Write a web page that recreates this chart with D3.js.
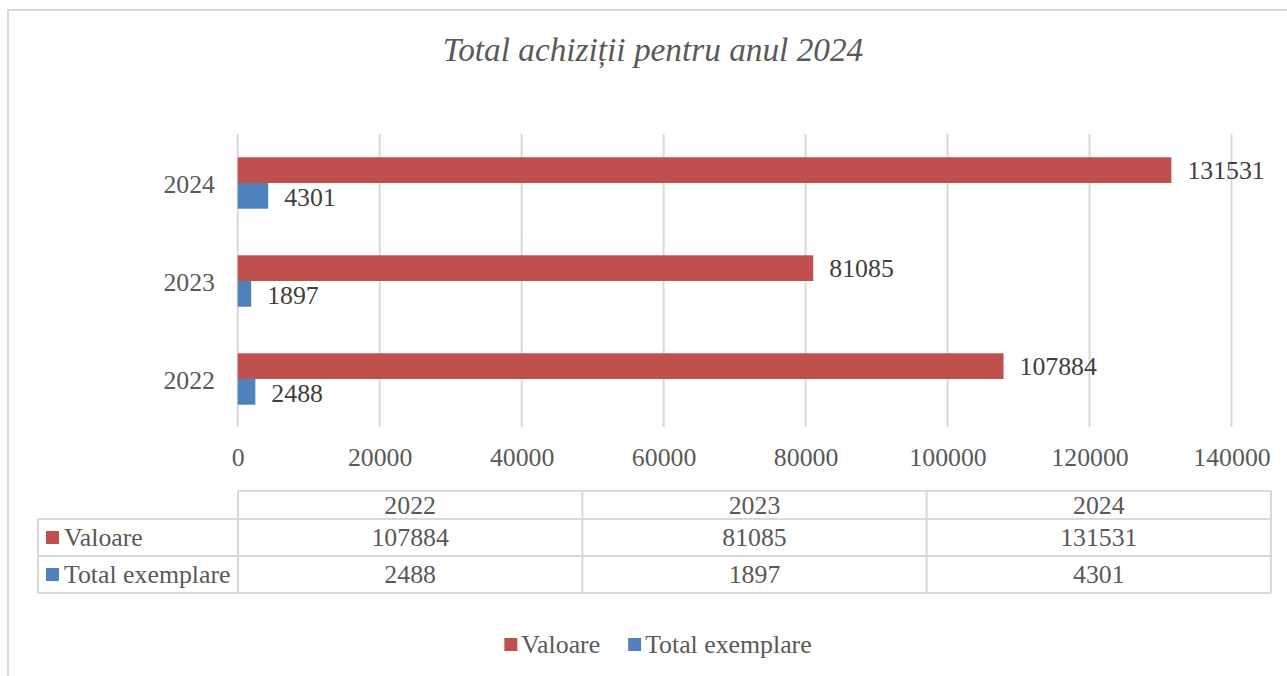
<!DOCTYPE html>
<html>
<head>
<meta charset="utf-8">
<script src="https://cdn.jsdelivr.net/npm/d3@7/dist/d3.min.js"></script>
<style>
  html, body { margin: 0; padding: 0; background: #fff; }
  svg { display: block; }
</style>
</head>
<body>
<svg id="chart" width="1287" height="676"></svg>
<script>
// ---- Data ----
const years = ["2022", "2023", "2024"];
const valoare = [107884, 81085, 131531];
const totalExemplare = [2488, 1897, 4301];
const seriesNames = ["Valoare", "Total exemplare"];
const seriesColors = ["#C0504D", "#4F81BD"];
const xTicks = [0, 20000, 40000, 60000, 80000, 100000, 120000, 140000];
const title = "Total achiziții pentru anul 2024";

// ---- Setup ----
const FONT = "'Liberation Serif', 'Times New Roman', serif";
const FS = 25.8;
const svg = d3.select("#chart");
const W = 1287, H = 676;

// outer chart border
svg.append("rect")
  .attr("x", 8).attr("y", 10).attr("width", W + 20).attr("height", H + 20)
  .attr("fill", "#fff").attr("stroke", "#d9d9d9").attr("stroke-width", 2);

// title
svg.append("text")
  .attr("x", 653).attr("y", 61)
  .attr("text-anchor", "middle")
  .attr("font-family", FONT).attr("font-style", "italic").attr("font-size", 33.3)
  .attr("fill", "#595959")
  .text(title);

// scales
const plotTop = 134, plotBottom = 428;
const x = d3.scaleLinear().domain([0, 140000]).range([237.7, 1231.5]);
const y = d3.scaleBand().domain(years.slice().reverse()).range([plotTop, plotBottom]).padding(0);
const ySub = d3.scaleBand().domain(seriesNames).range([0, y.bandwidth()]).paddingInner(0).paddingOuter(0.907);
const color = d3.scaleOrdinal().domain(seriesNames).range(seriesColors);

// gridlines
svg.append("g").selectAll("line").data(xTicks).join("line")
  .attr("x1", d => x(d)).attr("x2", d => x(d))
  .attr("y1", plotTop).attr("y2", plotBottom - 1)
  .attr("stroke", "#d9d9d9").attr("stroke-width", 2);

// x axis labels
const xAxis = d3.axisBottom(x).tickValues(xTicks).tickSize(0).tickFormat(d3.format("d"));
const gx = svg.append("g").attr("transform", "translate(0,466)").call(xAxis);
gx.select(".domain").remove();
gx.selectAll("text")
  .attr("y", 0).attr("dy", null)
  .attr("font-family", FONT).attr("font-size", FS).attr("fill", "#595959");

// y axis labels
const yAxis = d3.axisLeft(y).tickSize(0).tickPadding(0);
const gy = svg.append("g").attr("transform", "translate(215,0)").call(yAxis);
gy.select(".domain").remove();
gy.selectAll("text")
  .attr("x", 0).attr("dy", null).attr("y", FS * 0.331 + 1)
  .attr("text-anchor", "end")
  .attr("font-family", FONT).attr("font-size", FS).attr("fill", "#595959");

// data rows
const rows = years.map((yr, i) => ({ year: yr, values: [
  { series: seriesNames[0], value: valoare[i] },
  { series: seriesNames[1], value: totalExemplare[i] }
]}));

const groups = svg.append("g").selectAll("g").data(rows).join("g")
  .attr("transform", d => `translate(0,${y(d.year)})`);

groups.selectAll("rect").data(d => d.values).join("rect")
  .attr("x", x(0))
  .attr("y", d => ySub(d.series))
  .attr("width", d => x(d.value) - x(0))
  .attr("height", ySub.bandwidth())
  .attr("fill", d => color(d.series));

groups.selectAll("text").data(d => d.values).join("text")
  .attr("x", d => x(d.value) + 16)
  .attr("y", d => ySub(d.series) + ySub.bandwidth() / 2 + FS * 0.331 + (d.series === seriesNames[1] ? 2 : 0))
  .attr("font-family", FONT).attr("font-size", FS).attr("fill", "#404040")
  .text(d => d.value);

// ---- data table ----
const tLeft = 38, tRight = 1271;
const tRows = [491, 519, 556, 593];
const col = d3.scaleBand().domain(years).range([238, tRight]);
const tg = svg.append("g").attr("stroke", "#d9d9d9").attr("stroke-width", 2);
// horizontal lines
tg.append("line").attr("x1", col.range()[0]).attr("x2", tRight).attr("y1", tRows[0]).attr("y2", tRows[0]);
[tRows[1], tRows[2], tRows[3]].forEach(yy => {
  tg.append("line").attr("x1", tLeft).attr("x2", tRight).attr("y1", yy).attr("y2", yy);
});
// vertical lines
tg.append("line").attr("x1", tLeft).attr("x2", tLeft).attr("y1", tRows[1]).attr("y2", tRows[3]);
years.forEach(yr => {
  tg.append("line").attr("x1", col(yr)).attr("x2", col(yr)).attr("y1", tRows[0]).attr("y2", tRows[3]);
});
tg.append("line").attr("x1", tRight).attr("x2", tRight).attr("y1", tRows[0]).attr("y2", tRows[3]);

const cellText = (xx, yTop, yBot, txt, anchor) => svg.append("text")
  .attr("x", xx).attr("y", (yTop + yBot) / 2 + FS * 0.331)
  .attr("text-anchor", anchor)
  .attr("font-family", FONT).attr("font-size", FS).attr("fill", "#595959")
  .text(txt);

years.forEach(yr => cellText(col(yr) + col.bandwidth() / 2, tRows[0], tRows[1], yr, "middle"));
const seriesData = [valoare, totalExemplare];
seriesNames.forEach((s, si) => {
  const yTop = tRows[si + 1], yBot = tRows[si + 2];
  const cy = (yTop + yBot) / 2;
  svg.append("rect").attr("x", 46).attr("y", cy - 6.5).attr("width", 13).attr("height", 13).attr("fill", seriesColors[si]);
  cellText(64, yTop, yBot, s, "start");
  years.forEach((yr, i) => cellText(col(yr) + col.bandwidth() / 2, yTop, yBot, seriesData[si][i], "middle"));
});

// ---- bottom legend ----
const legend = svg.append("g");
const items = legend.selectAll("g").data(seriesNames).join("g");
items.append("rect").attr("width", 13).attr("height", 13).attr("y", -13)
  .attr("fill", d => color(d));
items.append("text").attr("x", 17).attr("y", 0)
  .attr("font-family", FONT).attr("font-size", FS).attr("fill", "#595959")
  .text(d => d);
let widths = [];
items.each(function() { widths.push(this.getBBox().width); });
const gap = 28;
const total = d3.sum(widths) + gap * (widths.length - 1);
let cx = 658 - total / 2;
items.attr("transform", (d, i) => {
  const t = `translate(${cx},651)`;
  cx += widths[i] + gap;
  return t;
});
items.select("text").attr("y", 2);
</script>
</body>
</html>
